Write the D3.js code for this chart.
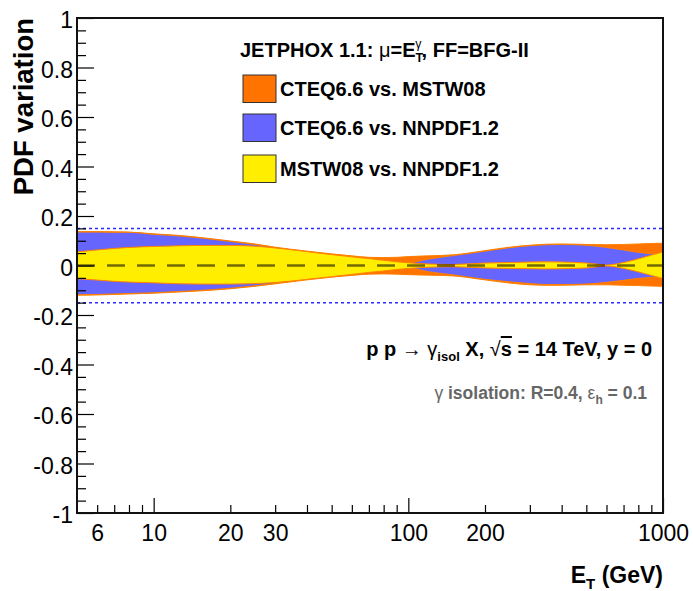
<!DOCTYPE html>
<html>
<head>
<meta charset="utf-8">
<script src="https://cdn.jsdelivr.net/npm/d3@7"></script>
<style>
  body { margin: 0; background: #fff; }
  svg { display: block; font-family: "Liberation Sans", Arial, Helvetica, sans-serif; }
</style>
</head>
<body>
<svg id="chart" width="693" height="591"></svg>
<script>
// ---- data ----
const et = [5,6,7,8,10,12,15,20,25,30,40,50,60,70,80,90,100,120,150,200,250,300,350,400,500,600,700,800,900,1000];

const orangeHi = [0.137,0.137,0.136,0.135,0.128,0.123,0.114,0.099,0.087,0.074,0.058,0.047,0.039,0.033,0.032,0.033,0.036,0.039,0.043,0.060,0.074,0.082,0.086,0.087,0.085,0.084,0.085,0.087,0.089,0.090];
const orangeLo = [-0.120,-0.119,-0.117,-0.115,-0.112,-0.108,-0.103,-0.094,-0.084,-0.074,-0.058,-0.047,-0.040,-0.035,-0.034,-0.035,-0.037,-0.039,-0.042,-0.058,-0.071,-0.078,-0.080,-0.080,-0.078,-0.078,-0.080,-0.081,-0.083,-0.084];

const blueHi = [0.135,0.135,0.134,0.134,0.126,0.121,0.112,0.097,0.085,0.072,0.050,0.035,0.022,0.014,0.010,0.008,0.010,0.026,0.040,0.058,0.072,0.080,0.084,0.085,0.082,0.073,0.063,0.053,0.048,0.045];
const blueLo = [-0.118,-0.117,-0.115,-0.113,-0.110,-0.106,-0.101,-0.092,-0.082,-0.072,-0.050,-0.035,-0.022,-0.014,-0.010,-0.009,-0.010,-0.025,-0.038,-0.056,-0.066,-0.073,-0.077,-0.077,-0.075,-0.068,-0.060,-0.052,-0.048,-0.045];

const yellowHi = [0.055,0.063,0.069,0.073,0.077,0.079,0.081,0.081,0.078,0.071,0.056,0.044,0.035,0.028,0.021,0.015,0.011,0.006,0.004,0.010,0.012,0.014,0.015,0.014,0.010,0.002,0.012,0.027,0.042,0.055];
const yellowLo = [-0.053,-0.059,-0.064,-0.067,-0.070,-0.073,-0.075,-0.075,-0.073,-0.069,-0.056,-0.045,-0.036,-0.028,-0.022,-0.016,-0.012,-0.007,-0.005,-0.010,-0.012,-0.013,-0.014,-0.013,-0.010,-0.002,-0.012,-0.026,-0.040,-0.053];

const seriesNames = ["CTEQ6.6 vs. MSTW08", "CTEQ6.6 vs. NNPDF1.2", "MSTW08 vs. NNPDF1.2"];
const seriesColors = ["#ff7300", "#6666ff", "#ffee00"];

const xMajorTicks = [10, 100, 1000];
const xMinorTicks = [6,7,8,9,20,30,40,50,60,70,80,90,200,300,400,500,600,700,800,900];
const xLabelTicks = [6, 10, 20, 30, 100, 200, 1000];
const yMajorTicks = [-1,-0.8,-0.6,-0.4,-0.2,0,0.2,0.4,0.6,0.8,1];
const yMinorTicks = d3.range(-20, 21).map(i => i * 0.05).filter(v => Math.abs(Math.round(v * 5) - v * 5) > 1e-6);
const refLines = [0.15, -0.15];

// ---- layout ----
const L = 77, R = 663, T = 18, B = 513;
const svg = d3.select("#chart");
const x = d3.scaleLog().domain([5, 1000]).range([L, R]);
const y = d3.scaleLinear().domain([-1, 1]).range([B, T]);

svg.append("defs").append("clipPath").attr("id", "clip")
  .append("rect").attr("x", L).attr("y", T).attr("width", R - L).attr("height", B - T);

const plot = svg.append("g").attr("clip-path", "url(#clip)");

function band(hi, lo) {
  return d3.area()
    .x((d, i) => x(et[i]))
    .y0((d, i) => y(lo[i]))
    .y1((d, i) => y(hi[i]))
    .curve(d3.curveMonotoneX)(et);
}
const bands = [[orangeHi, orangeLo], [blueHi, blueLo], [yellowHi, yellowLo]];
bands.forEach((b, k) => {
  plot.append("path")
    .attr("d", band(b[0], b[1]))
    .attr("fill", seriesColors[k])
    .attr("stroke", "#ff8000")
    .attr("stroke-width", 1);
});

// reference lines
refLines.forEach(v => {
  plot.append("line")
    .attr("x1", L).attr("x2", R).attr("y1", y(v)).attr("y2", y(v))
    .attr("stroke", "#2a2aff").attr("stroke-width", 1.5).attr("stroke-dasharray", "3,3");
});
plot.append("line")
  .attr("x1", L).attr("x2", R).attr("y1", y(0)).attr("y2", y(0))
  .attr("stroke", "rgba(0,0,0,0.55)").attr("stroke-width", 2.5).attr("stroke-dasharray", "18,12");

// axes
function styleAxis(g) {
  g.select(".domain").remove();
  g.selectAll(".tick line").attr("stroke", "#000").attr("stroke-width", 1.2);
}
const yFmt = d => String(+(+d).toFixed(1));  // ASCII hyphen minus, as in the original
svg.append("g").attr("transform", `translate(${L},0)`)
  .call(d3.axisLeft(y).tickValues(yMinorTicks).tickSize(-9).tickFormat(""))
  .call(styleAxis);
svg.append("g").attr("transform", `translate(${L},0)`)
  .call(d3.axisLeft(y).tickValues(yMajorTicks).tickSize(-17).tickPadding(4).tickFormat(yFmt))
  .call(styleAxis)
  .call(g => g.selectAll("text").attr("font-size", 23).attr("fill", "#000")
      .attr("font-family", "'Liberation Sans', Arial, sans-serif").attr("dy", "0.42em"));

svg.append("g").attr("transform", `translate(0,${B})`)
  .call(d3.axisBottom(x).tickValues(xMinorTicks).tickSize(-8).tickFormat(""))
  .call(styleAxis);
svg.append("g").attr("transform", `translate(0,${B})`)
  .call(d3.axisBottom(x).tickValues(xMajorTicks).tickSize(-15).tickFormat(""))
  .call(styleAxis);
svg.append("g").attr("transform", `translate(0,${B})`)
  .call(d3.axisBottom(x).tickValues(xLabelTicks).tickSize(0).tickPadding(12).tickFormat(d3.format("d")))
  .call(g => g.select(".domain").remove())
  .call(g => g.selectAll("text").attr("font-size", 23).attr("fill", "#000")
      .attr("font-family", "'Liberation Sans', Arial, sans-serif"));

// frame
svg.append("rect").attr("x", L).attr("y", T).attr("width", R - L).attr("height", B - T)
  .attr("fill", "none").attr("stroke", "#111").attr("stroke-width", 2);

// axis titles
svg.append("text")
  .attr("transform", `translate(33,${T}) rotate(-90)`)
  .attr("text-anchor", "end").attr("font-weight", "bold").attr("font-size", 27.5)
  .text("PDF variation");

const xt = svg.append("text").attr("x", R).attr("y", 583).attr("text-anchor", "end")
  .attr("font-weight", "bold").attr("font-size", 23);
xt.append("tspan").text("E");
xt.append("tspan").attr("font-size", 15).attr("dy", 6).text("T");
xt.append("tspan").attr("dy", -6).text(" (GeV)");

// legend header
const hd = svg.append("text").attr("x", 240).attr("y", 57).attr("font-weight", "bold").attr("font-size", 20);
hd.append("tspan").text("JETPHOX 1.1: ");
hd.append("tspan").attr("font-weight", "normal").text("μ");
hd.append("tspan").text("=E");
hd.append("tspan").attr("font-size", 12.5).attr("dy", 5).text("T");
hd.append("tspan").attr("font-size", 12.5).attr("font-weight", "normal").attr("dx", -7.8).attr("dy", -14).text("γ");
hd.append("tspan").attr("dy", 9).text(", FF=BFG-II");

// legend entries
const legY = [75, 114, 155];
seriesNames.forEach((name, k) => {
  svg.append("rect").attr("x", 243).attr("y", legY[k]).attr("width", 33).attr("height", 27.5)
    .attr("fill", seriesColors[k]).attr("stroke", "#333").attr("stroke-width", 1);
  svg.append("text").attr("x", 280).attr("y", legY[k] + 21)
    .attr("font-weight", "bold").attr("font-size", 20).text(name);
});

// annotations
const a1 = svg.append("text").attr("x", 652).attr("y", 356).attr("text-anchor", "end")
  .attr("font-weight", "bold").attr("font-size", 20).attr("fill", "#000");
a1.append("tspan").text("p p ");
a1.append("tspan").attr("font-weight", "normal").text("→ γ");
a1.append("tspan").attr("font-size", 13).attr("dy", 5).text("isol");
a1.append("tspan").attr("dy", -5).text(" X, ");
a1.append("tspan").attr("font-weight", "normal").text("√");
a1.append("tspan").style("text-decoration", "overline").text("s");
a1.append("tspan").text(" = 14 TeV, y = 0");

const a2 = svg.append("text").attr("x", 647).attr("y", 399).attr("text-anchor", "end")
  .attr("font-weight", "bold").attr("font-size", 17.5).attr("fill", "#666");
a2.append("tspan").attr("font-weight", "normal").text("γ");
a2.append("tspan").text(" isolation: R=0.4, ");
a2.append("tspan").attr("font-weight", "normal").text("ε");
a2.append("tspan").attr("font-size", 12).attr("dy", 5).text("h");
a2.append("tspan").attr("dy", -5).text(" = 0.1");
</script>
</body>
</html>
